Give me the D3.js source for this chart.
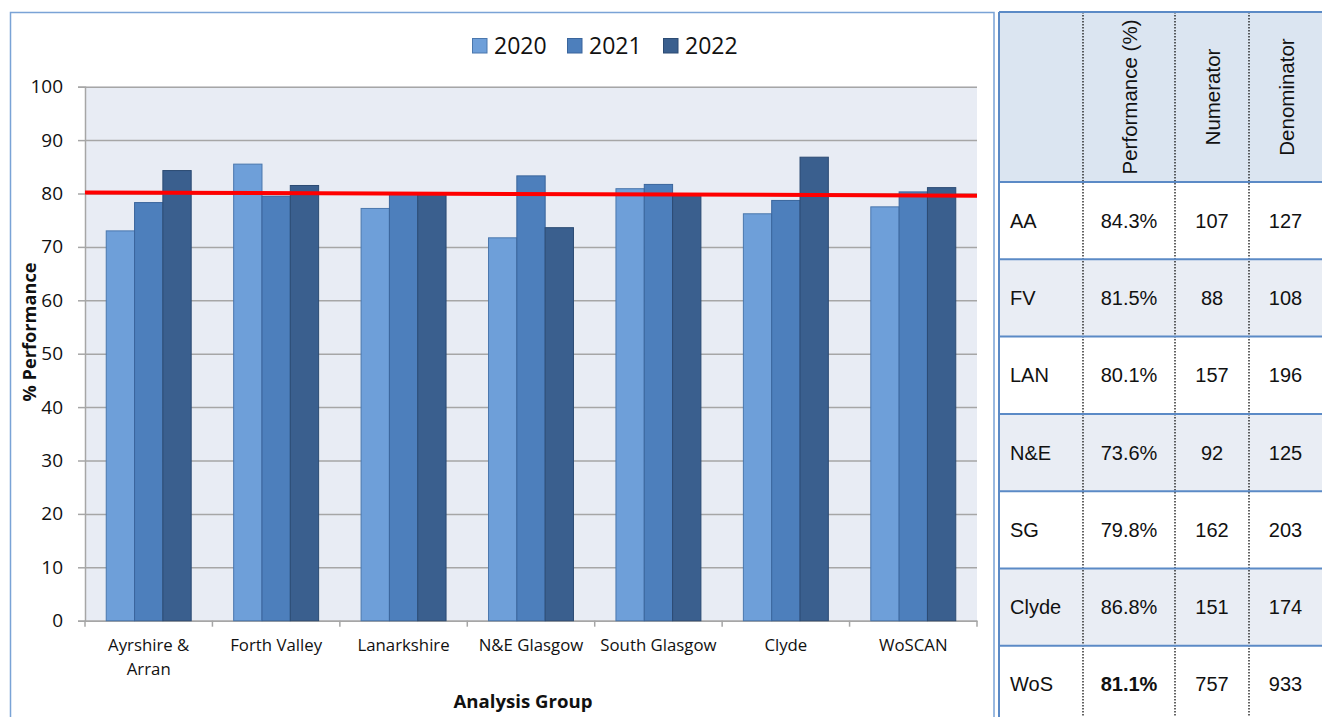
<!DOCTYPE html>
<html><head><meta charset="utf-8">
<script src="https://cdn.jsdelivr.net/npm/d3@7"></script>
<style>
html,body{margin:0;padding:0;background:#fff;}
svg{display:block;}
</style></head>
<body>
<svg id="chart" width="1322" height="717"></svg>
<script>
// ---- data ----
const categories = ["Ayrshire & Arran","Forth Valley","Lanarkshire","N&E Glasgow","South Glasgow","Clyde","WoSCAN"];
const years = ["2020","2021","2022"];
const values2020 = [73.0, 85.5, 77.2, 71.7, 80.9, 76.2, 77.5];
const values2021 = [78.3, 79.5, 79.9, 83.3, 81.7, 78.7, 80.3];
const values2022 = [84.3, 81.5, 80.1, 73.6, 79.8, 86.8, 81.1];
const refLine = [80.2, 79.6]; // red line, start and end value
const yTicks = [0,10,20,30,40,50,60,70,80,90,100];

const tableHeaders = ["Performance (%)","Numerator","Denominator"];
const tableLabels = ["AA","FV","LAN","N&E","SG","Clyde","WoS"];
const tablePerf = ["84.3%","81.5%","80.1%","73.6%","79.8%","86.8%","81.1%"];
const tableNum = [107, 88, 157, 92, 162, 151, 757];
const tableDen = [127, 108, 196, 125, 203, 174, 933];

// ---- layout ----
const svg = d3.select("#chart");
const colors = ["#6e9fd9","#4d7fbc","#3a5f8e"];
const strokes = ["#4a77ad","#3a659c","#2c4b73"];
const series = [values2020, values2021, values2022];
const chartFont = "'Open Sans', sans-serif";
const tableFont = "'Liberation Sans', Arial, sans-serif";

// chart border
svg.append("rect").attr("x",10.5).attr("y",12.5).attr("width",983.5).attr("height",720)
  .attr("fill","#fff").attr("stroke","#7aa3d6").attr("stroke-width",1.5);

const plot = {l:85, t:86.7, r:977, b:620.7};
const x0 = d3.scaleBand().domain(categories).range([plot.l, plot.r]).paddingInner(0).paddingOuter(0);
const gapRatio = 1.5;
const bw = x0.bandwidth()/(3+gapRatio);
const x1 = d3.scaleBand().domain(years).range([bw*gapRatio/2, bw*gapRatio/2 + 3*bw]);
const y = d3.scaleLinear().domain([0,100]).range([plot.b, plot.t]);

svg.append("rect").attr("x",plot.l).attr("y",plot.t).attr("width",plot.r-plot.l).attr("height",plot.b-plot.t)
  .attr("fill","#e8ecf4");

// gridlines
const grid = svg.append("g").attr("transform",`translate(${plot.l},0)`)
  .call(d3.axisLeft(y).tickValues(yTicks).tickSize(-(plot.r-plot.l)).tickFormat(""));
grid.select(".domain").remove();
grid.selectAll("line").attr("stroke","#a6a6a6").attr("stroke-width",1.5);

// y axis
const ya = svg.append("g").attr("transform",`translate(${plot.l},0)`)
  .call(d3.axisLeft(y).tickValues(yTicks).tickSize(7).tickPadding(15));
ya.select(".domain").attr("stroke","#a6a6a6").attr("stroke-width",1.5);
ya.selectAll("line").attr("stroke","#a6a6a6").attr("stroke-width",1.5);
ya.selectAll("text").attr("font-family",chartFont).attr("font-size",19).attr("fill","#111");

// x axis
const xa = svg.append("g").attr("transform",`translate(0,${plot.b})`)
  .call(d3.axisBottom(x0).tickSize(0).tickFormat(""));
xa.select(".domain").attr("stroke","#a6a6a6").attr("stroke-width",1.5);
const bounds = categories.map((c)=>x0(c)).concat([plot.r]);
svg.append("g").selectAll("line").data(bounds).join("line")
  .attr("x1",d=>d).attr("x2",d=>d).attr("y1",plot.b).attr("y2",plot.b+6)
  .attr("stroke","#a6a6a6").attr("stroke-width",1.5);

// category labels
const catLines = {"Ayrshire & Arran":["Ayrshire &","Arran"]};
svg.append("g").selectAll("text").data(categories).join("text")
  .attr("x",d=>x0(d)+x0.bandwidth()/2).attr("y",plot.b+30)
  .attr("text-anchor","middle").attr("font-family",chartFont).attr("font-size",16.8).attr("fill","#111")
  .each(function(d){
    const lines = catLines[d] || [d];
    d3.select(this).selectAll("tspan").data(lines).join("tspan")
      .attr("x",x0(d)+x0.bandwidth()/2).attr("dy",(l,i)=>i===0?0:24).text(l=>l);
  });

// bars
series.forEach((vals,si)=>{
  svg.append("g").selectAll("rect").data(vals).join("rect")
    .attr("x",(v,i)=>x0(categories[i])+x1(years[si]))
    .attr("y",v=>y(v)).attr("width",x1.bandwidth()).attr("height",v=>plot.b-y(v))
    .attr("fill",colors[si]).attr("stroke",strokes[si]).attr("stroke-width",1);
});

// red line
svg.append("line").attr("x1",plot.l).attr("x2",plot.r).attr("y1",y(refLine[0])).attr("y2",y(refLine[1]))
  .attr("stroke","#ff0000").attr("stroke-width",4);

// axis titles
svg.append("text").attr("x",523).attr("y",708).attr("text-anchor","middle")
  .attr("font-family",chartFont).attr("font-weight","bold").attr("font-size",18.6).attr("fill","#111").text("Analysis Group");
svg.append("text").attr("transform",`translate(36,332) rotate(-90)`).attr("text-anchor","middle")
  .attr("font-family",chartFont).attr("font-weight","bold").attr("font-size",18.2).attr("fill","#111").text("% Performance");

// legend
const legX = [472, 567, 663];
const lg = svg.append("g");
years.forEach((yr,i)=>{
  lg.append("rect").attr("x",legX[i]+0.5).attr("y",38.5).attr("width",14.5).attr("height",14.5)
    .attr("fill",colors[i]).attr("stroke",strokes[i]).attr("stroke-width",1);
  lg.append("text").attr("x",legX[i]+22).attr("y",53.5).attr("font-family",chartFont).attr("font-size",23)
    .attr("fill","#111").text(yr);
});

// ---- table ----
const tX = [999, 1083, 1175, 1249, 1322];
const headTop = 12, headBot = 182, rowH = 77.3;
const tg = svg.append("g");
tg.append("rect").attr("x",tX[0]).attr("y",headTop).attr("width",tX[4]-tX[0]+2).attr("height",headBot-headTop).attr("fill","#dbe5f1");
tableLabels.forEach((l,i)=>{
  tg.append("rect").attr("x",tX[0]).attr("y",headBot+i*rowH).attr("width",tX[4]-tX[0]+2).attr("height",rowH)
    .attr("fill", i%2===1 ? "#e9edf4" : "#ffffff");
});
// vertical dotted lines
[tX[1],tX[2],tX[3]].forEach(xv=>{
  tg.append("line").attr("x1",xv).attr("x2",xv).attr("y1",headTop).attr("y2",717)
    .attr("stroke","#111").attr("stroke-width",1.3).attr("stroke-dasharray","1.5,1.5");
});
// horizontal blue lines
const hLines = [headTop, headBot].concat(tableLabels.slice(0,-1).map((l,i)=>headBot+(i+1)*rowH));
hLines.forEach(yv=>{
  tg.append("line").attr("x1",tX[0]).attr("x2",1322).attr("y1",yv).attr("y2",yv).attr("stroke","#5b8ac6").attr("stroke-width",2);
});
tg.append("line").attr("x1",tX[0]).attr("x2",tX[0]).attr("y1",headTop).attr("y2",717).attr("stroke","#5b8ac6").attr("stroke-width",2);

// header texts
tableHeaders.forEach((h,i)=>{
  const cx = (tX[i+1]+tX[i+2])/2;
  tg.append("text").attr("transform",`translate(${cx+8},${(headTop+headBot)/2}) rotate(-90)`)
    .attr("text-anchor","middle").attr("font-family",tableFont).attr("font-size",20.5).attr("fill","#111").text(h);
});
// rows
tableLabels.forEach((l,i)=>{
  const cy = headBot + i*rowH + rowH/2 + 7;
  tg.append("text").attr("x",1010).attr("y",cy).attr("font-family",tableFont).attr("font-size",20).attr("fill","#111").text(l);
  tg.append("text").attr("x",(tX[1]+tX[2])/2).attr("y",cy).attr("text-anchor","middle").attr("font-family",tableFont)
    .attr("font-size",20).attr("font-weight", l==="WoS"?"bold":"normal").attr("fill","#111").text(tablePerf[i]);
  tg.append("text").attr("x",(tX[2]+tX[3])/2).attr("y",cy).attr("text-anchor","middle").attr("font-family",tableFont)
    .attr("font-size",20).attr("fill","#111").text(tableNum[i]);
  tg.append("text").attr("x",(tX[3]+tX[4])/2).attr("y",cy).attr("text-anchor","middle").attr("font-family",tableFont)
    .attr("font-size",20).attr("fill","#111").text(tableDen[i]);
});
</script>
</body></html>
